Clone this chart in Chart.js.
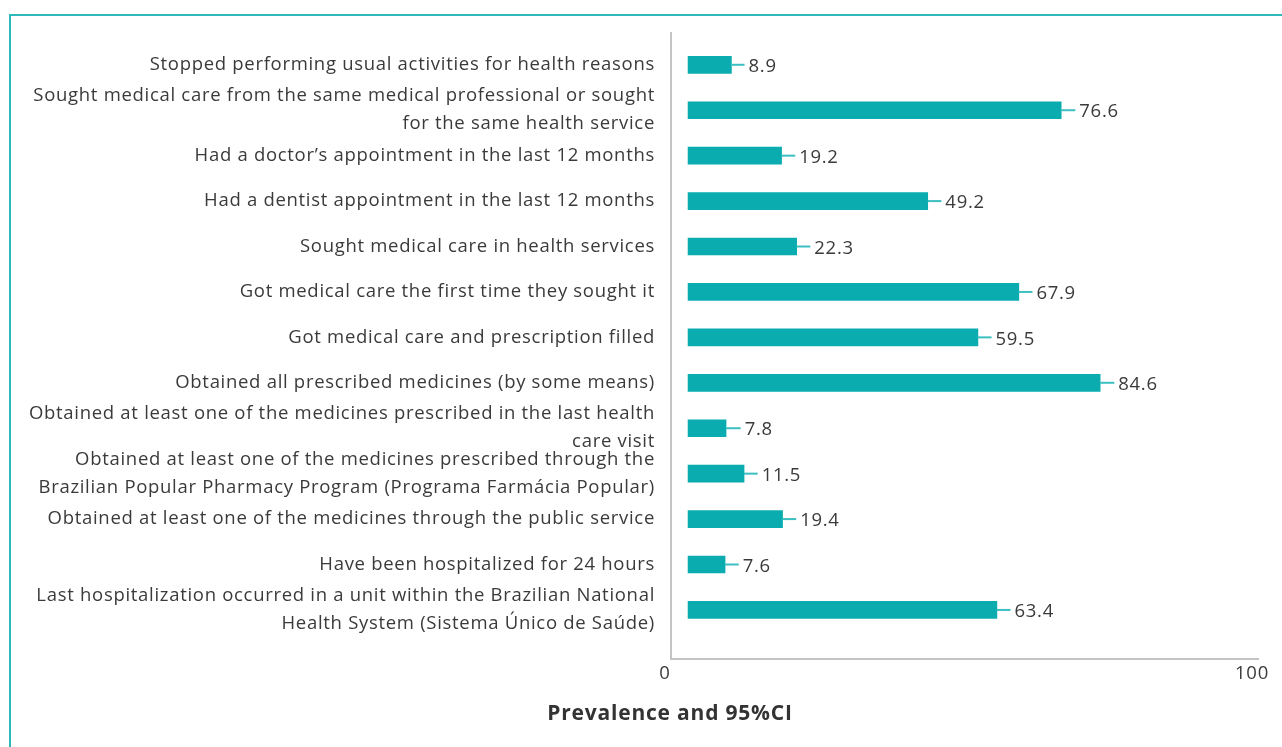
<!DOCTYPE html>
<html>
<head>
<meta charset="utf-8">
<script src="https://cdn.jsdelivr.net/npm/chart.js@4.4.1/dist/chart.umd.min.js"></script>
<style>
    body { margin: 0; background: #fff; }
    #wrap { position: relative; width: 1282px; height: 747px; overflow: hidden; }
    #frame {
        position: absolute; left: 9px; top: 14px; width: 1300px; height: 760px;
        border-top: 2px solid #2db9b9; border-left: 2px solid #2db9b9;
    }
    #chart { position: absolute; left: 0; top: 0; }
    #axisTitle {
        position: absolute; left: 0; width: 1340px; top: 698px; text-align: center;
        font-family: "Open Sans", sans-serif; font-weight: 700; font-size: 21px;
        letter-spacing: 0.8px; color: #333;
    }
</style>
</head>
<body>
<div id="wrap">
    <div id="frame"></div>
    <canvas id="chart" width="1282" height="747"></canvas>
    <div id="axisTitle">Prevalence and 95%CI</div>
</div>
<script>
// Indicadores (etiquetas del eje Y)
const categories = [
    'Stopped performing usual activities for health reasons',
    ['Sought medical care from the same medical professional or sought', 'for the same health service'],
    'Had a doctor’s appointment in the last 12 months',
    'Had a dentist appointment in the last 12 months',
    'Sought medical care in health services',
    'Got medical care the first time they sought it',
    'Got medical care and prescription filled',
    'Obtained all prescribed medicines (by some means)',
    ['Obtained at least one of the medicines prescribed in the last health', 'care visit'],
    ['Obtained at least one of the medicines prescribed through the', 'Brazilian Popular Pharmacy Program (Programa Farmácia Popular)'],
    'Obtained at least one of the medicines through the public service',
    'Have been hospitalized for 24 hours',
    ['Last hospitalization occurred in a unit within the Brazilian National', 'Health System (Sistema Único de Saúde)']
];

// Prevalencia (%)
const prevalence = [8.9, 76.6, 19.2, 49.2, 22.3, 67.9, 59.5, 84.6, 7.8, 11.5, 19.4, 7.6, 63.4];

// Límite superior del IC 95%
const ciUpper = [11.6, 79.5, 22.0, 52.0, 25.1, 70.7, 62.3, 87.5, 10.8, 14.3, 22.2, 10.4, 66.2];

// Etiquetas del eje X
const xTicks = [0, 100];

const textColor = '#3a3a3a';
const labelFont = { family: '"Open Sans", sans-serif', size: 18.5 };
const letterSpacing = '0.7px';

// Espaciado de letras para acercarse a la fuente original
const spacingPlugin = {
    id: 'spacing',
    beforeLayout(chart) { chart.ctx.letterSpacing = letterSpacing; },
    beforeDraw(chart) { chart.ctx.letterSpacing = letterSpacing; }
};

// Dibujar las barras de error y los valores
const errorBarPlugin = {
    id: 'errorBars',
    afterDatasetsDraw(chart) {
        const ctx = chart.ctx;
        const meta = chart.getDatasetMeta(0);
        const xScale = chart.scales.x;
        ctx.save();
        meta.data.forEach((bar, i) => {
            const x0 = bar.x;
            const x1 = xScale.getPixelForValue(ciUpper[i]);
            ctx.strokeStyle = '#3cbfc1';
            ctx.lineWidth = 2;
            ctx.beginPath();
            ctx.moveTo(x0, bar.y);
            ctx.lineTo(x1, bar.y);
            ctx.stroke();

            ctx.fillStyle = textColor;
            ctx.font = `${labelFont.size}px ${labelFont.family}`;
            ctx.textAlign = 'left';
            ctx.textBaseline = 'middle';
            ctx.fillText(prevalence[i].toFixed(1), x1 + 4, bar.y + 2);
        });
        ctx.restore();
    }
};

new Chart(document.getElementById('chart'), {
    type: 'bar',
    data: {
        datasets: [{
            data: prevalence.map((v, i) => ({ x: v, y: i })),
            backgroundColor: '#0aacb0',
            barThickness: 17,
            borderWidth: 0
        }]
    },
    options: {
        indexAxis: 'y',
        responsive: false,
        animation: false,
        layout: { padding: { top: 33, right: 24, bottom: 48, left: 0 } },
        plugins: {
            legend: { display: false },
            tooltip: { enabled: false }
        },
        scales: {
            x: {
                type: 'linear',
                display: false,
                min: -3.5,
                max: 117
            },
            x2: {
                type: 'linear',
                position: 'bottom',
                min: xTicks[0],
                max: xTicks[xTicks.length - 1],
                grid: { display: false },
                border: { display: true, color: '#c4c4c4', width: 2 },
                afterBuildTicks: scale => { scale.ticks = xTicks.map(v => ({ value: v })); },
                afterFit: scale => {
                    scale.height = 40;
                    scale.paddingLeft = 0;
                    scale.paddingRight = 0;
                },
                ticks: {
                    color: textColor,
                    font: labelFont,
                    padding: -4,
                    labelOffset: -6
                }
            },
            y: {
                type: 'linear',
                reverse: true,
                offset: false,
                min: -0.7,
                max: 13.08,
                grid: { display: false },
                border: { display: true, color: '#c4c4c4', width: 2 },
                afterBuildTicks: scale => { scale.ticks = categories.map((c, i) => ({ value: i })); },
                afterFit: scale => {
                    scale.width = 671;
                    scale.paddingTop = 0;
                    scale.paddingBottom = 0;
                },
                ticks: {
                    color: textColor,
                    font: { family: labelFont.family, size: labelFont.size, lineHeight: 28 / 18.5 },
                    padding: 8,
                    autoSkip: false,
                    callback: value => categories[value]
                }
            }
        }
    },
    plugins: [spacingPlugin, errorBarPlugin]
});
</script>
</body>
</html>
